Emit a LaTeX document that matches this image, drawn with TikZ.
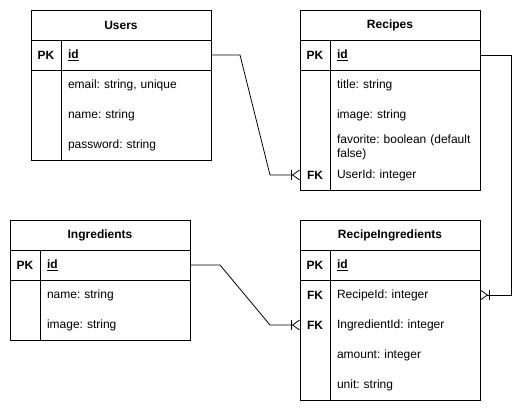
\documentclass[tikz,border=0pt]{standalone}
\usepackage{fontspec}
\setmainfont{Liberation Sans}
\frenchspacing
\usetikzlibrary{arrows.meta,positioning}
\newcommand{\erfont}{\fontsize{12}{13.8}\selectfont}
\tikzset{
  crowbar/.tip={Bar[width=10pt,sep=0.5pt] Straight Barb[reversed,length=7pt,width=10pt]},
  cell/.style={draw,line width=0.8pt,inner sep=0pt,outer sep=0pt,minimum height=30pt,font=\erfont},
  ertitle/.style={cell,minimum width=180pt,font=\erfont\bfseries},
  keycell/.style={cell,minimum width=30pt,font=\erfont\bfseries},
  fieldcell/.style={cell,text width=136pt,inner xsep=7pt,align=left},
  keytext/.style={inner sep=0pt,outer sep=0pt,minimum width=30pt,font=\erfont\bfseries},
  fieldtext/.style={anchor=west,inner ysep=0pt,inner xsep=7pt,outer sep=0pt,text width=136pt,align=left,font=\erfont},
  erline/.style={draw,line width=0.8pt,arrows={-crowbar}},
}

\begin{document}
\begin{tikzpicture}[x=1pt,y=-1pt]
  \useasboundingbox[fill=white] (0,0) rectangle (529,411);
  % tables: name/title/left/top/body rows
  \foreach \n/\t/\x/\y/\r in {users/Users/31/10/3,recipes/Recipes/300/10/4,ingr/Ingredients/10/220/2,ri/RecipeIngredients/300/220/4}{
    \node[ertitle,anchor=north west] (\n) at (\x,\y) {\t};
    \node[keycell,anchor=north west] (\n-pk) at (\n.south west) {PK};
    \node[fieldcell,anchor=north west] (\n-id) at (\n-pk.north east) {\textbf{\underline{id}}};
    \node[keycell,anchor=north west,minimum height=30*\r] (\n-kc) at (\n-pk.south west) {};
    \node[fieldcell,anchor=north west,minimum height=30*\r] (\n-fc) at (\n-kc.north east) {};
  }
  % fields
  \foreach \t [count=\i] in {{email: string, unique},name: string,password: string}
    \node[fieldtext] (users-f\i) at (61,{55+30*\i}) {\t};
  \foreach \t/\d [count=\i] in {title: string/0,image: string/0,{favorite: boolean (default\\false)}/2,UserId: integer/0}
    \node[fieldtext] (recipes-f\i) at (330,{55+30*\i+\d}) {\t};
  \foreach \t [count=\i] in {name: string,image: string}
    \node[fieldtext] (ingr-f\i) at (40,{265+30*\i}) {\t};
  \foreach \t [count=\i] in {RecipeId: integer,IngredientId: integer,amount: integer,unit: string}
    \node[fieldtext] (ri-f\i) at (330,{265+30*\i}) {\t};
  % foreign keys
  \node[keytext] (recipes-k4) at (315,175) {FK};
  \node[keytext] (ri-k1) at (315,295) {FK};
  \node[keytext] (ri-k2) at (315,325) {FK};
  % relations
  \draw[erline] (users-id.east) -- ++(29,0) -- ([xshift=-30pt]recipes-k4.west) -- (recipes-k4.west);
  \draw[erline] (recipes-id.east) -- ++(31,0) |- (ri-f1.east);
  \draw[erline] (ingr-id.east) -- ++(30,0) -- ([xshift=-30pt]ri-k2.west) -- (ri-k2.west);
\end{tikzpicture}
\end{document}
